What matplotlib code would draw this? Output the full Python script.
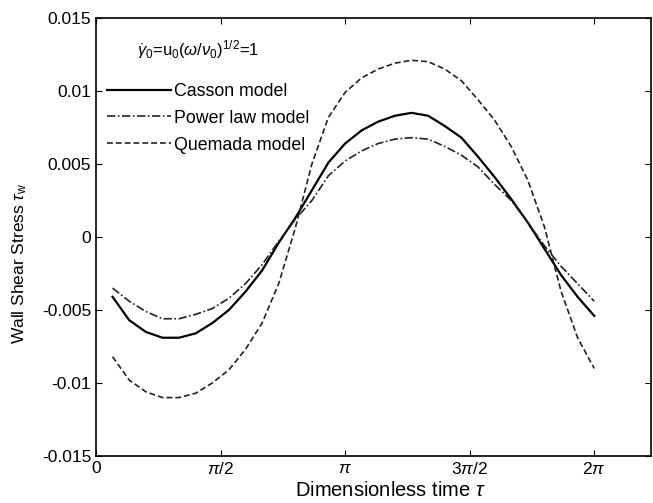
import numpy as np
import matplotlib
matplotlib.use('Agg')
import matplotlib.pyplot as plt

plt.rcParams['font.family'] = ['Liberation Sans', 'DejaVu Sans']
plt.rcParams['mathtext.fontset'] = 'custom'
plt.rcParams['mathtext.rm'] = 'Liberation Sans'
plt.rcParams['mathtext.it'] = 'Liberation Sans:italic'

# dimensionless time (pi/15 steps)
tau = [0.209, 0.419, 0.628, 0.838, 1.047, 1.257, 1.466, 1.676, 1.885, 2.094,
       2.304, 2.513, 2.723, 2.932, 3.142, 3.351, 3.560, 3.770, 3.979, 4.189,
       4.398, 4.608, 4.817, 5.027, 5.236, 5.445, 5.655, 5.864, 6.074, 6.283]

casson = [-0.0041, -0.0057, -0.0065, -0.0069, -0.0069, -0.0066, -0.0059, -0.0050, -0.00375, -0.0023,
          -0.0004, 0.0013, 0.0032, 0.0051, 0.0064, 0.0073, 0.0079, 0.0083, 0.0085, 0.0083,
          0.0076, 0.0068, 0.0055, 0.0041, 0.0026, 0.0010, -0.0008, -0.0026, -0.0041, -0.0054]

power_law = [-0.0035, -0.0044, -0.0051, -0.0056, -0.0056, -0.0053, -0.0049, -0.0042, -0.0032, -0.0019,
             -0.0003, 0.0012, 0.0025, 0.0042, 0.0052, 0.0059, 0.0064, 0.0067, 0.0068, 0.0067,
             0.0062, 0.0056, 0.0048, 0.0036, 0.0025, 0.0010, -0.0006, -0.0020, -0.0032, -0.0044]

quemada = [-0.0082, -0.0098, -0.0106, -0.0110, -0.0110, -0.0107, -0.0100, -0.0091, -0.0077, -0.0059,
           -0.0032, 0.0006, 0.0050, 0.0082, 0.0099, 0.0109, 0.0115, 0.0119, 0.0121, 0.0120,
           0.0115, 0.0107, 0.0094, 0.0080, 0.0062, 0.0039, 0.0007, -0.0037, -0.0069, -0.0090]

xticks = [0, np.pi / 2, np.pi, 3 * np.pi / 2, 2 * np.pi]
xtick_labels = ['0', r'$\pi$/2', r'$\pi$', r'3$\pi$/2', r'2$\pi$']
yticks = [-0.015, -0.01, -0.005, 0, 0.005, 0.01, 0.015]
ytick_labels = ['-0.015', '-0.01', '-0.005', '0', '0.005', '0.01', '0.015']

fig = plt.figure(figsize=(6.53, 5.03), dpi=100)
ax = fig.add_axes([0.147, 0.0934, 0.85, 0.871])

ax.plot(tau, casson, color='black', lw=1.6, ls='-', label='Casson model')
ax.plot(tau, power_law, color='#222222', lw=1.2, ls=(0, (5, 1.5, 1, 1.5)), label='Power law model')
ax.plot(tau, quemada, color='#222222', lw=1.2, ls=(0, (3.5, 1.8)), label='Quemada model')

ax.set_xlim(0, 7)
ax.set_ylim(-0.015, 0.015)
ax.set_xticks(xticks)
ax.set_xticklabels(xtick_labels)
ax.set_yticks(yticks)
ax.set_yticklabels(ytick_labels)
ax.tick_params(direction='in', top=True, right=True, labelsize=12.5, length=4, width=0.8)
for s in ax.spines.values():
    s.set_linewidth(1.2)

ax.set_xlabel(r'Dimensionless time $\tau$', fontsize=14.5)
ax.xaxis.set_label_coords(0.53, -0.058)
ax.set_ylabel(r'Wall Shear Stress $\tau_\mathrm{w}$', fontsize=12.5)
ax.yaxis.set_label_coords(-0.12, 0.44)

ax.text(0.074, 0.927, r'$\dot{\gamma}_0$=u$_0$($\omega$/$\nu_0$)$^{1/2}$=1',
        transform=ax.transAxes, fontsize=12, va='center', ha='left')

ax.legend(loc='upper left', bbox_to_anchor=(0.02, 0.852), frameon=False,
          fontsize=12.8, handlelength=3.6, handletextpad=0.15, labelspacing=0.56,
          borderaxespad=0, borderpad=0)

fig.savefig('out.png', dpi=100)
